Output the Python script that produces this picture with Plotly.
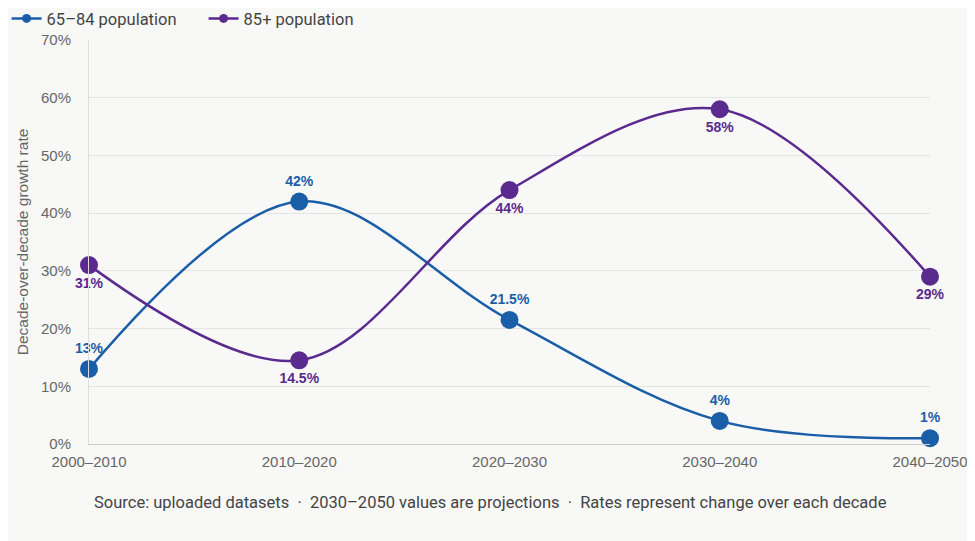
import plotly.graph_objects as go

decades = ["2000–2010", "2010–2020", "2020–2030", "2030–2040", "2040–2050"]
pop_65_84 = [13, 42, 21.5, 4, 1]
pop_85_plus = [31, 14.5, 44, 58, 29]
labels_65_84 = ["13%", "42%", "21.5%", "4%", "1%"]
labels_85_plus = ["31%", "14.5%", "44%", "58%", "29%"]
series_names = ["65–84 population", "85+ population"]

blue = "#1b5ea8"
purple = "#5a2a8e"
text_font = "Roboto, Liberation Sans, Arial, sans-serif"
axis_font = "Liberation Sans, Arial, sans-serif"

fig = go.Figure()

fig.add_trace(go.Scatter(
    x=decades, y=pop_65_84,
    mode="lines+markers+text",
    name=series_names[0],
    line=dict(color=blue, width=2.5, shape="spline", smoothing=1),
    marker=dict(color=blue, size=18),
    text=labels_65_84,
    textposition="top center",
    textfont=dict(color=blue, size=14, family=axis_font, weight="bold"),
    cliponaxis=False,
    showlegend=False,
))

fig.add_trace(go.Scatter(
    x=decades, y=pop_85_plus,
    mode="lines+markers+text",
    name=series_names[1],
    line=dict(color=purple, width=2.5, shape="spline", smoothing=1),
    marker=dict(color=purple, size=18),
    text=labels_85_plus,
    textposition="bottom center",
    textfont=dict(color=purple, size=14, family=axis_font, weight="bold"),
    cliponaxis=False,
    showlegend=False,
))

# small legend symbols (the real markers are too big for the legend)
for name, color in zip(series_names, [blue, purple]):
    fig.add_trace(go.Scatter(
        x=[None], y=[None],
        mode="lines+markers",
        name=name,
        line=dict(color=color, width=2.5),
        marker=dict(color=color, size=9),
        showlegend=True,
    ))

# page body has an 8px margin, so the figure is sized to the window minus that
fig.update_layout(
    width=967, height=533,
    paper_bgcolor="#f8f8f7",
    plot_bgcolor="#f8f8f7",
    margin=dict(l=81, r=45, t=32, b=97, autoexpand=False),
    font=dict(family=text_font, color="#666666", size=14),
    legend=dict(
        orientation="h",
        x=-0.098, xanchor="left",
        y=1.096, yanchor="top",
        font=dict(size=16.5, color="#444444", family=text_font),
        itemwidth=30,
        entrywidth=152, entrywidthmode="pixels",
        tracegroupgap=0,
        bgcolor="rgba(0,0,0,0)",
    ),
    showlegend=True,
)

fig.update_xaxes(
    type="category",
    range=[0, 4],
    showgrid=False,
    showline=True, linecolor="#cccccc", linewidth=1,
    ticks="", ticklabelstandoff=4,
    tickfont=dict(size=15, color="#666666", family=axis_font),
    zeroline=False,
)

fig.update_yaxes(
    range=[0, 70],
    dtick=10,
    ticksuffix="%",
    showgrid=True, gridcolor="#e4e4e4", gridwidth=1,
    showline=True, linecolor="#dddddd", linewidth=1,
    zeroline=False,
    ticks="", ticklabelstandoff=14,
    tickfont=dict(size=15, color="#666666", family=axis_font),
    title=dict(text="Decade-over-decade growth rate",
               font=dict(size=15.5, color="#666666", family=axis_font), standoff=8),
)

fig.add_annotation(
    text="Source: uploaded datasets  ·  2030–2050 values are projections  ·  Rates represent change over each decade",
    xref="paper", yref="paper",
    x=0.478, y=-0.146,
    xanchor="center", yanchor="middle",
    showarrow=False,
    font=dict(size=16.5, color="#444444", family=text_font),
)

fig.write_html("out.html")
